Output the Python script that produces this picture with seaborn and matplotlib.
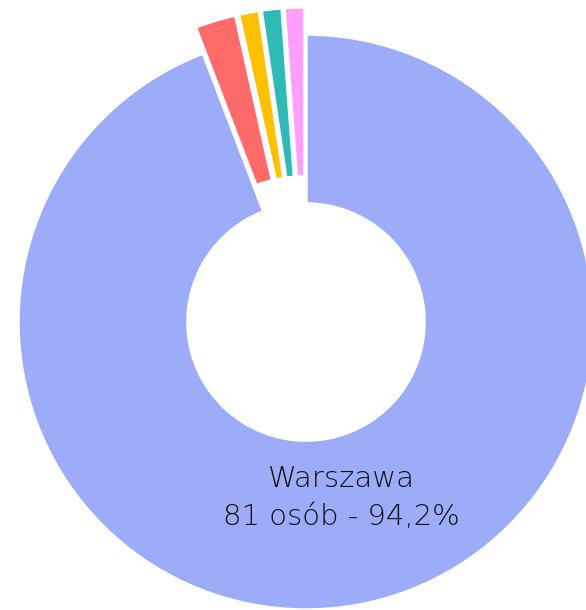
import seaborn as sns
import matplotlib.pyplot as plt

cities = ['Warszawa', 'Miasto 2', 'Miasto 3', 'Miasto 4', 'Miasto 5']
counts = [81, 2, 1, 1, 1]
colors = ['#9DACF8', '#FF6B6B', '#FFC000', '#2FBAB6', '#FF9EFF']
explode = [0, 0.094, 0.094, 0.094, 0.094]

W, H = 586, 610
cx, cy, R = 306, 322, 288

sns.set_theme(style='white')
plt.rcParams['font.family'] = ['DejaVu Sans']

fig = plt.figure(figsize=(W / 100, H / 100), dpi=100)
ax = fig.add_axes([0, 0, 1, 1])
ax.pie(counts, colors=colors, startangle=90, counterclock=False,
       explode=explode, radius=1,
       wedgeprops=dict(width=0.59, edgecolor='white', linewidth=2.5))
ax.set_xlim(-cx / R, (W - cx) / R)
ax.set_ylim(-(H - cy) / R, cy / R)
ax.set_aspect('equal')
ax.axis('off')

total = sum(counts)
pct = f'{counts[0] / total * 100:.1f}'.replace('.', ',')
fig.text(341 / W, 1 - 487 / H, cities[0], ha='center', va='baseline',
         fontsize=21, color='#111111', fontweight='light')
fig.text(341 / W, 1 - 525 / H, f'{counts[0]} osób - {pct}%', ha='center',
         va='baseline', fontsize=21, color='#111111', fontweight='light')

plt.savefig('out.png', dpi=100)
